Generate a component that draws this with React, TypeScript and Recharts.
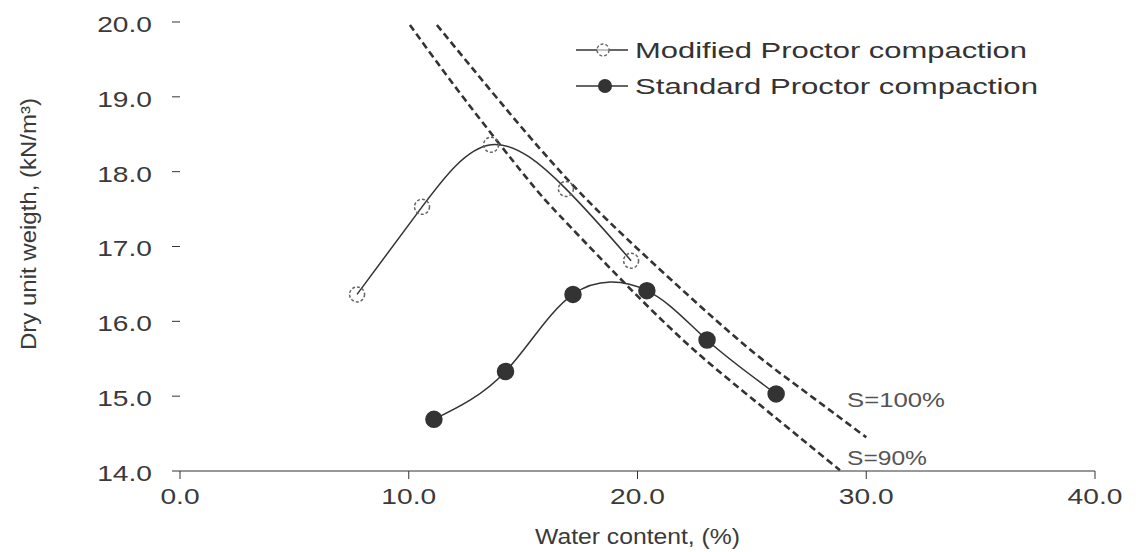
import { LineChart, Line, XAxis, YAxis } from 'recharts'

// readings from the compaction plot (water content %, dry unit weight kN/m3)
const modifiedW = [7.74, 10.58, 13.6, 16.87, 19.72]
const modifiedGamma = [16.36, 17.53, 18.36, 17.77, 16.81]
const standardW = [11.1, 14.23, 17.18, 20.41, 23.04, 26.06]
const standardGamma = [14.69, 15.33, 16.36, 16.41, 15.75, 15.03]
const sat100W = [11.23, 13.95, 17.05, 20.46, 24.35, 26.97, 30.0]
const sat100Gamma = [19.96, 18.95, 17.86, 16.84, 15.77, 15.14, 14.45]
const sat90W = [10.05, 12.44, 15.17, 16.61, 18.96, 21.99, 24.96, 28.85]
const sat90Gamma = [19.96, 18.97, 17.91, 17.41, 16.66, 15.75, 14.98, 14.01]
const xTicks = [0, 10, 20, 30, 40]
const yTicks = [14, 15, 16, 17, 18, 19, 20]

const zip = (xs: number[], ys: number[]) => xs.map((x, i) => ({ x, y: ys[i] }))

const FONT = '"Liberation Sans", Arial, sans-serif'
const INK = '#333'
const STRETCH = 1.28

function XTick({ x, y, payload }: any) {
  return (
    <g transform={`translate(${x},${y + 15})`}>
      <text textAnchor="middle" dominantBaseline="central" fontSize={22} fontFamily={FONT} fill="#3a3a3a"
        transform={`scale(${STRETCH},1)`}>
        {Number(payload.value).toFixed(1)}
      </text>
    </g>
  )
}

function YTick({ x, y, payload }: any) {
  return (
    <g transform={`translate(${x - 18},${y + 2})`}>
      <text textAnchor="end" dominantBaseline="central" fontSize={22} fontFamily={FONT} fill="#3a3a3a"
        transform={`scale(${STRETCH},1)`}>
        {Number(payload.value).toFixed(1)}
      </text>
    </g>
  )
}

// legend + saturation labels drawn on top of the chart
function Overlay() {
  return (
    <svg width={1136} height={552} style={{ position: 'absolute', left: 0, top: 0, pointerEvents: 'none' }}>
      <g transform="translate(572,32)">
        <line x1={4} x2={56} y1={18} y2={18} stroke={INK} strokeWidth={1.5} />
        <circle cx={31} cy={18} r={6} fill="#fff" stroke="#666" strokeWidth={1.4} strokeDasharray="3 2" />
        <line x1={25} x2={37} y1={18} y2={18} stroke="#888" strokeWidth={1} />
        <text x={63} y={18} dominantBaseline="central" fontSize={22} fontFamily={FONT} fill={INK}
          textLength={392} lengthAdjust="spacingAndGlyphs">Modified Proctor compaction</text>
        <line x1={4} x2={56} y1={54} y2={54} stroke={INK} strokeWidth={1.5} />
        <circle cx={33} cy={54} r={7} fill={INK} />
        <text x={63} y={54} dominantBaseline="central" fontSize={22} fontFamily={FONT} fill={INK}
          textLength={403} lengthAdjust="spacingAndGlyphs">Standard Proctor compaction</text>
      </g>
      <text x={847} y={400} dominantBaseline="central" fontSize={20} fontFamily={FONT} fill="#555"
        textLength={98} lengthAdjust="spacingAndGlyphs">S=100%</text>
      <text x={847} y={458} dominantBaseline="central" fontSize={20} fontFamily={FONT} fill="#555"
        textLength={80} lengthAdjust="spacingAndGlyphs">S=90%</text>
    </svg>
  )
}

export default function App() {
  return (
    <div style={{ position: 'absolute', left: 0, top: 0, width: 1136, height: 552, background: '#fff' }}>
      <LineChart width={1136} height={552} margin={{ top: 22, right: 41, bottom: 0, left: 0 }}>
        <XAxis type="number" dataKey="x" domain={[0, 40]} ticks={xTicks} allowDataOverflow
          height={81} tickSize={8} tick={<XTick />} stroke={INK} tickLine={{ stroke: INK }}
          label={{
            content: ({ viewBox }: any) => (
              <text x={viewBox.x + viewBox.width / 2} y={viewBox.y + 65} textAnchor="middle"
                dominantBaseline="central" fontSize={22} fontFamily={FONT} fill="#3a3a3a"
                textLength={205} lengthAdjust="spacingAndGlyphs">Water content, (%)</text>
            ),
          }} />
        <YAxis type="number" dataKey="y" domain={[14, 20]} ticks={yTicks} allowDataOverflow
          width={180} tickSize={8} tick={<YTick />} axisLine={false} tickLine={{ stroke: INK }}
          label={{
            content: () => (
              <text transform="translate(28,224) rotate(-90)" textAnchor="middle" dominantBaseline="central"
                fontSize={22} fontFamily={FONT} fill="#3a3a3a" textLength={252} lengthAdjust="spacingAndGlyphs">
                Dry unit weigth, (kN/m³)
              </text>
            ),
          }} />
        <Line data={zip(sat100W, sat100Gamma)} dataKey="y" type="natural" stroke={INK} strokeWidth={2.6}
          strokeDasharray="7 4" dot={false} isAnimationActive={false} />
        <Line data={zip(sat90W, sat90Gamma)} dataKey="y" type="natural" stroke={INK} strokeWidth={2.6}
          strokeDasharray="7 4" dot={false} isAnimationActive={false} />
        <Line data={zip(modifiedW, modifiedGamma)} dataKey="y" name="Modified Proctor compaction" type="natural"
          stroke={INK} strokeWidth={1.5}
          dot={{ r: 7.5, fill: 'none', stroke: '#666', strokeWidth: 1.5, strokeDasharray: '3 2' }}
          isAnimationActive={false} />
        <Line data={zip(standardW, standardGamma)} dataKey="y" name="Standard Proctor compaction" type="natural"
          stroke={INK} strokeWidth={1.5} dot={{ r: 8, fill: INK, stroke: INK }}
          isAnimationActive={false} />
      </LineChart>
      <Overlay />
    </div>
  )
}
